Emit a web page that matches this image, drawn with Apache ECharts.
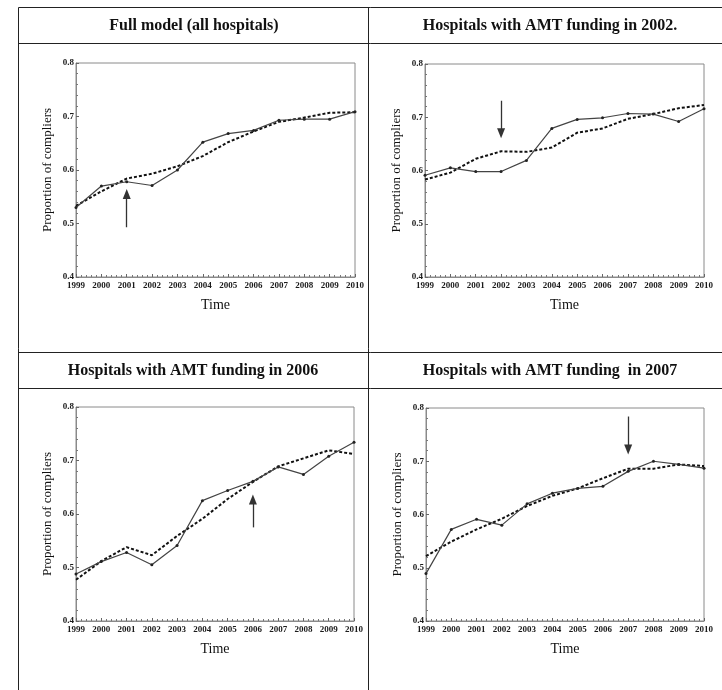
<!DOCTYPE html>
<html>
<head>
<meta charset="utf-8">
<script src="https://cdn.jsdelivr.net/npm/echarts@6/dist/echarts.min.js"></script>
<style>
  html, body { margin: 0; padding: 0; background: #fff; }
  #chart { width: 722px; height: 690px; }
</style>
</head>
<body>
<div id="chart"></div>
<script>
// Years on the x axis
const years = [1999, 2000, 2001, 2002, 2003, 2004, 2005, 2006, 2007, 2008, 2009, 2010];
const yTicks = [0.4, 0.5, 0.6, 0.7, 0.8];

// Panel titles
const titles = [
  'Full model (all hospitals)',
  'Hospitals with AMT funding in 2002.',
  'Hospitals with AMT funding in 2006',
  'Hospitals with AMT funding  in 2007'
];

// Observed proportion of compliers (solid lines)
const observedAll  = [0.530, 0.570, 0.578, 0.571, 0.600, 0.652, 0.668, 0.674, 0.693, 0.695, 0.695, 0.709];
const observed2002 = [0.591, 0.605, 0.598, 0.598, 0.619, 0.679, 0.696, 0.699, 0.707, 0.706, 0.692, 0.716];
const observed2006 = [0.488, 0.511, 0.528, 0.505, 0.541, 0.625, 0.644, 0.661, 0.688, 0.674, 0.708, 0.734];
const observed2007 = [0.489, 0.572, 0.591, 0.580, 0.620, 0.640, 0.649, 0.653, 0.681, 0.700, 0.694, 0.687];

// Model estimates (dotted lines)
const fittedAll  = [0.533, 0.560, 0.584, 0.593, 0.607, 0.626, 0.652, 0.672, 0.690, 0.698, 0.707, 0.708];
const fitted2002 = [0.583, 0.596, 0.622, 0.636, 0.635, 0.643, 0.671, 0.679, 0.697, 0.706, 0.717, 0.723];
const fitted2006 = [0.477, 0.512, 0.538, 0.523, 0.559, 0.591, 0.628, 0.660, 0.689, 0.704, 0.719, 0.712];
const fitted2007 = [0.522, 0.549, 0.572, 0.592, 0.616, 0.635, 0.649, 0.668, 0.686, 0.686, 0.694, 0.691];

// Funding-year arrows: [year, start value, tip value]
const arrowAll  = [2001, 0.493, 0.555];
const arrow2002 = [2002, 0.731, 0.670];
const arrow2006 = [2006, 0.575, 0.627];
const arrow2007 = [2007, 0.784, 0.722];

const observed = [observedAll, observed2002, observed2006, observed2007];
const fitted = [fittedAll, fitted2002, fitted2006, fitted2007];
const arrows = [arrowAll, arrow2002, arrow2006, arrow2007];

const serif = '"Liberation Serif", "DejaVu Serif", serif';

const grids = [
  { left: 76,  top: 63,  width: 279, height: 214 },
  { left: 425, top: 64,  width: 279, height: 213 },
  { left: 76,  top: 407, width: 278, height: 214 },
  { left: 426, top: 408, width: 278, height: 213 }
];
const titleCenters = [[194, 26], [550, 26], [193, 371], [550, 371]];

const option = {
  animation: false,
  backgroundColor: '#fff',
  grid: grids.map(g => Object.assign({ show: true, borderColor: '#8a8a8a', borderWidth: 1, backgroundColor: 'transparent' }, g)),
  xAxis: grids.map((g, i) => ({
    type: 'value', gridIndex: i,
    min: years[0], max: years[years.length - 1], interval: 1,
    name: 'Time', nameLocation: 'middle', nameGap: 21,
    nameTextStyle: { fontFamily: serif, fontSize: 14, color: '#111' },
    axisLine: { lineStyle: { color: '#8a8a8a' } },
    axisTick: { show: true, inside: true, length: 3, lineStyle: { color: '#666' } },
    minorTick: { show: true, splitNumber: 5, length: 2, lineStyle: { color: '#777' } },
    splitLine: { show: false },
    axisLabel: { fontFamily: serif, fontSize: 9, fontWeight: 'bold', color: '#1a1a1a', margin: 4, formatter: v => String(v) }
  })),
  yAxis: grids.map((g, i) => ({
    type: 'value', gridIndex: i,
    min: yTicks[0], max: yTicks[yTicks.length - 1], interval: 0.1,
    name: 'Proportion of compliers', nameLocation: 'middle', nameGap: 22,
    nameTextStyle: { fontFamily: serif, fontSize: 13, color: '#111' },
    axisLine: { lineStyle: { color: '#8a8a8a' } },
    axisTick: { show: true, inside: true, length: 3, lineStyle: { color: '#666' } },
    minorTick: { show: true, splitNumber: 5, length: 2, lineStyle: { color: '#777' } },
    splitLine: { show: false },
    axisLabel: { fontFamily: serif, fontSize: 9, fontWeight: 'bold', color: '#1a1a1a', margin: 2, formatter: v => v.toFixed(1) }
  })),
  graphic: [
    // table frame
    { type: 'line', shape: { x1: 18.5, y1: 7.5, x2: 18.5, y2: 690 }, style: { stroke: '#222', lineWidth: 1 } },
    { type: 'line', shape: { x1: 368.5, y1: 7.5, x2: 368.5, y2: 690 }, style: { stroke: '#222', lineWidth: 1 } },
    { type: 'line', shape: { x1: 18.5, y1: 7.5, x2: 722, y2: 7.5 }, style: { stroke: '#222', lineWidth: 1 } },
    { type: 'line', shape: { x1: 18.5, y1: 43.5, x2: 722, y2: 43.5 }, style: { stroke: '#222', lineWidth: 1 } },
    { type: 'line', shape: { x1: 18.5, y1: 352.5, x2: 722, y2: 352.5 }, style: { stroke: '#222', lineWidth: 1 } },
    { type: 'line', shape: { x1: 18.5, y1: 388.5, x2: 722, y2: 388.5 }, style: { stroke: '#222', lineWidth: 1 } }
  ].concat(titles.map((t, i) => ({
    type: 'text', x: titleCenters[i][0], y: titleCenters[i][1],
    style: { text: t, fontFamily: serif, fontSize: 16, fontWeight: 'bold', fill: '#111', align: 'center', verticalAlign: 'middle' }
  }))),
  series: []
};

for (let i = 0; i < 4; i++) {
  const a = arrows[i];
  option.series.push({
    type: 'line', xAxisIndex: i, yAxisIndex: i,
    data: years.map((y, k) => [y, observed[i][k]]),
    symbol: 'circle', symbolSize: 3,
    itemStyle: { color: '#222' },
    lineStyle: { color: '#444', width: 1.2 },
    z: 3,
    markLine: {
      silent: true,
      symbol: ['none', 'triangle'],
      symbolSize: [8, 10],
      label: { show: false },
      lineStyle: { color: '#333', width: 1.3, type: 'solid' },
      data: [[{ coord: [a[0], a[1]] }, { coord: [a[0], a[2]] }]]
    }
  });
  option.series.push({
    type: 'line', xAxisIndex: i, yAxisIndex: i,
    data: years.map((y, k) => [y, fitted[i][k]]),
    showSymbol: false,
    lineStyle: { color: '#111', width: 2, type: [3, 2] },
    z: 2
  });
}

const chart = echarts.init(document.getElementById('chart'), null, { renderer: 'canvas' });
chart.setOption(option);
</script>
</body>
</html>
